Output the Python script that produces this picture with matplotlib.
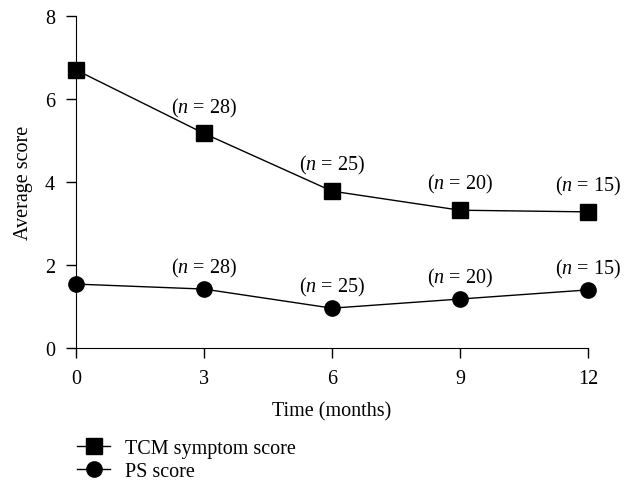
import matplotlib
matplotlib.use("Agg")
import matplotlib.pyplot as plt

plt.rcParams['font.family'] = ['Liberation Serif', 'DejaVu Serif']
plt.rcParams['mathtext.fontset'] = 'custom'
plt.rcParams['mathtext.rm'] = 'Liberation Serif'
plt.rcParams['mathtext.it'] = 'Liberation Serif:italic'

# data
months = [0, 3, 6, 9, 12]
tcm = [6.7, 5.17, 3.78, 3.32, 3.28]
ps = [1.54, 1.42, 0.96, 1.18, 1.40]
n_labels = ["", "28", "25", "20", "15"]

fs = 14.5
fig = plt.figure(figsize=(6.27, 4.85), dpi=100)
ax = fig.add_axes([0.1212, 0.2804, 0.8166, 0.6846])

l1, = ax.plot(months, tcm, color="black", lw=1.0, marker="s", ms=12, clip_on=False, zorder=3)
l2, = ax.plot(months, ps, color="black", lw=1.0, marker="o", ms=11, clip_on=False, zorder=3)

for x, y, n in zip(months, tcm, n_labels):
    if n:
        ax.annotate("($n$ = %s)" % n, (x, y), xytext=(0, 19), textcoords="offset points",
                    ha="center", va="center", fontsize=fs)
for x, y, n in zip(months, ps, n_labels):
    if n:
        ax.annotate("($n$ = %s)" % n, (x, y), xytext=(0, 15.5), textcoords="offset points",
                    ha="center", va="center", fontsize=fs)

ax.set_xlim(0, 12)
ax.set_ylim(0, 8)
ax.set_xticks([0, 3, 6, 9, 12])
ax.set_yticks([0, 2, 4, 6, 8])
ax.spines["top"].set_visible(False)
ax.spines["right"].set_visible(False)
ax.tick_params(direction="out", length=7, width=1, labelsize=fs, pad=8)
ax.set_xlabel("Time (months)", fontsize=fs, labelpad=10)
ax.set_ylabel("Average score", fontsize=fs, labelpad=9)

fig.legend([l1, l2], ["TCM symptom score", "PS score"], loc="upper left",
           bbox_to_anchor=(0.11, 0.11), frameon=False, fontsize=fs, numpoints=1,
           handlelength=1.65, handletextpad=0.75, labelspacing=0.2, borderaxespad=0)

fig.savefig("out.png", dpi=100)
